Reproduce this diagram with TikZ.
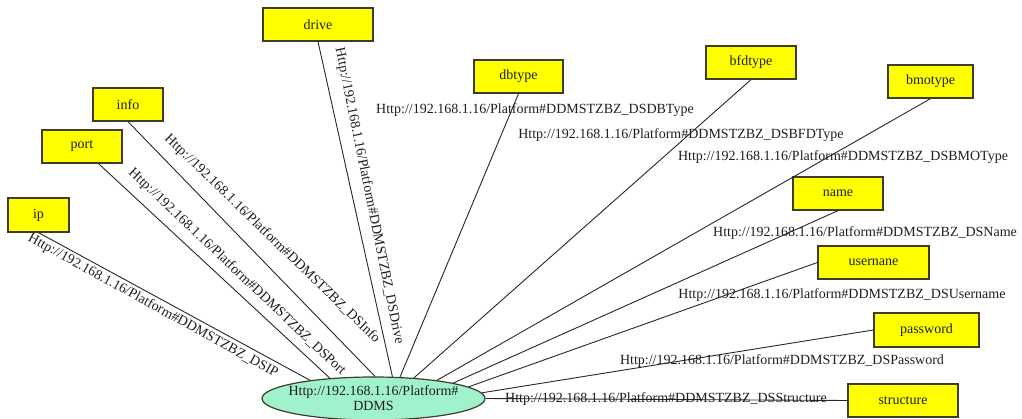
\documentclass[tikz,border=0pt]{standalone}
\usepackage{fontspec}
\setmainfont{Liberation Serif}
\usetikzlibrary{shapes.geometric}
\definecolor{boxfill}{RGB}{255,255,0}
\definecolor{boxline}{RGB}{60,60,40}
\definecolor{ellfill}{RGB}{160,242,205}
\definecolor{txt}{RGB}{30,30,30}
\tikzset{
  prop/.style={draw=boxline, line width=1.3pt, fill=boxfill, inner sep=0pt, minimum height=33pt, text=txt, font=\fontsize{14}{16}\selectfont},
  hub/.style={ellipse, draw=boxline, line width=1.2pt, fill=ellfill, inner xsep=-8pt, inner ysep=0pt, minimum width=223pt, minimum height=43pt, align=center, text=txt, font=\fontsize{14}{15}\selectfont},
  link/.style={draw=black!85, line width=0.9pt},
  elab/.style={text=txt, inner sep=0pt, font=\fontsize{14}{16}\selectfont}
}
\begin{document}
\begin{tikzpicture}[x=1pt,y=-1pt]
\useasboundingbox (0,0) rectangle (1022,419);
% property nodes
\node[prop, minimum width=110pt] (drive) at (318,24.5) {drive};
\node[prop, minimum width=70pt] (info) at (128,104.5) {info};
\node[prop, minimum width=80pt] (port) at (82,146.5) {port};
\node[prop, minimum width=61pt, minimum height=34pt] (ip) at (38.5,215) {ip};
\node[prop, minimum width=89pt] (dbtype) at (518.5,76.5) {dbtype};
\node[prop, minimum width=90pt] (bfdtype) at (751,62.5) {bfdtype};
\node[prop, minimum width=85pt] (bmotype) at (930.5,81.5) {bmotype};
\node[prop, minimum width=90pt] (name) at (838,193.5) {name};
\node[prop, minimum width=111pt] (usernane) at (873.5,262.5) {usernane};
\node[prop, minimum width=105pt, minimum height=34pt] (password) at (926.5,330) {password};
\node[prop, minimum width=110pt] (structure) at (903,400.5) {structure};
% hub
\node[hub] (c) at (373.5,398.5) {Http://192.168.1.16/Platform\#\\DDMS};
% connectors
\draw[link] (c.164) -- (ip.south);
\draw[link] (c.155) -- (port.-46);
\draw[link] (c.86) -- (info.south);
\draw[link] (c.49) -- (drive.south);
\draw[link] (c.39) -- (dbtype.south);
\draw[link] (c.27.5) -- (bfdtype.south);
\draw[link] (c.16.7) -- (bmotype.south);
\draw[link] (c.11.9) -- (name.south);
\draw[link] (c.7.3) -- (usernane.west);
\draw[link] (c.3.5) -- (password.west);
\draw[link] (c.east) -- (structure.west);
% edge labels
\node[elab, rotate=-28.8] (lip) at (153,306) {Http://192.168.1.16/Platform\#DDMSTZBZ\_DSIP};
\node[elab, rotate=-43.5] (lport) at (237,272) {Http://192.168.1.16/Platform\#DDMSTZBZ\_DSPort};
\node[elab, rotate=-44] (linfo) at (272,239) {Http://192.168.1.16/Platform\#DDMSTZBZ\_DSInfo};
\node[elab, rotate=-78.5] (ldrive) at (369,196) {Http://192.168.1.16/Platform\#DDMSTZBZ\_DSDrive};
\node[elab] (ldb) at (535,110) {Http://192.168.1.16/Platform\#DDMSTZBZ\_DSDBType};
\node[elab] (lbfd) at (681,135) {Http://192.168.1.16/Platform\#DDMSTZBZ\_DSBFDType};
\node[elab] (lbmo) at (843,157) {Http://192.168.1.16/Platform\#DDMSTZBZ\_DSBMOType};
\node[elab] (lname) at (865,233) {Http://192.168.1.16/Platform\#DDMSTZBZ\_DSName};
\node[elab] (luser) at (842,295) {Http://192.168.1.16/Platform\#DDMSTZBZ\_DSUsername};
\node[elab] (lpass) at (782,361) {Http://192.168.1.16/Platform\#DDMSTZBZ\_DSPassword};
\node[elab] (lstruct) at (666,399) {Http://192.168.1.16/Platform\#DDMSTZBZ\_DSStructure};
\end{tikzpicture}
\end{document}
